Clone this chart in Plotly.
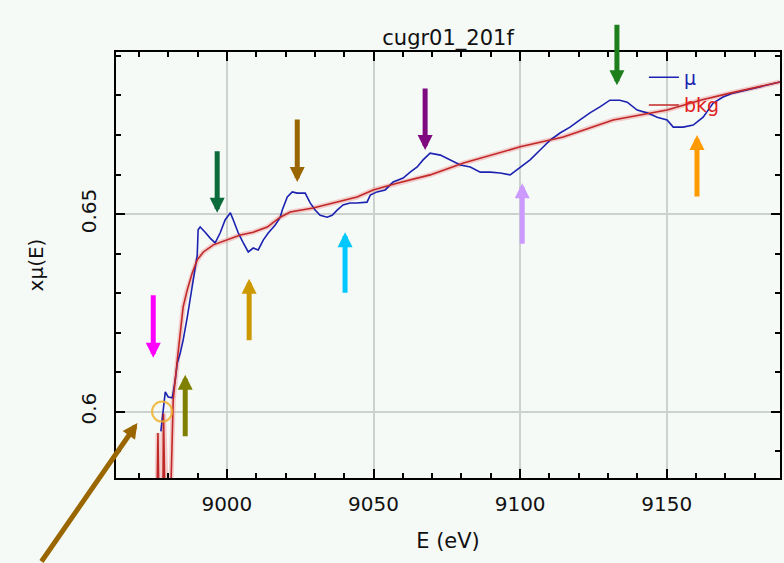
import plotly.graph_objects as go

# ---- data ----
energy_mu = [8977.5, 8978.3, 8979.0, 8980.0, 8981.4, 8982.4, 8983.1, 8984.1, 8985.1, 8986.5,
             8987.5, 8988.5, 8989.2, 8989.9, 8990.2, 8990.9, 8992.6, 8994.3, 8996.0, 8997.7,
             8999.4, 9001.2, 9002.2, 9003.9, 9005.6, 9007.3, 9009.0, 9010.7, 9012.4, 9014.1,
             9016.5, 9018.2, 9018.9, 9020.6, 9022.3, 9024.0, 9026.7, 9028.4, 9030.1, 9031.8,
             9034.2, 9035.9, 9037.6, 9039.6, 9042.0, 9044.4, 9047.8, 9048.9, 9051.2, 9054.0,
             9056.7, 9060.1, 9062.5, 9064.9, 9066.9, 9069.3, 9072.8, 9076.1, 9079.6, 9083.0,
             9086.4, 9089.8, 9093.2, 9096.6, 9100.0, 9103.4, 9106.8, 9110.2, 9113.6, 9117.0,
             9120.4, 9123.8, 9127.2, 9130.6, 9134.0, 9136.5, 9139.9, 9143.3, 9146.7, 9150.1,
             9152.2, 9155.6, 9159.0, 9162.4, 9165.8, 9169.2, 9172.6, 9177.4, 9181.8, 9188.6]
mu = [0.5950, 0.6004, 0.6050, 0.6037, 0.6035, 0.6080, 0.6123, 0.6148, 0.6181, 0.6239,
      0.6282, 0.6333, 0.6366, 0.6396, 0.6460, 0.6467, 0.6454, 0.6439, 0.6427, 0.6452,
      0.6485, 0.6503, 0.6485, 0.6452, 0.6427, 0.6404, 0.6414, 0.6409, 0.6434, 0.6452,
      0.6472, 0.6492, 0.6510, 0.6543, 0.6556, 0.6553, 0.6553, 0.6528, 0.6510, 0.6497,
      0.6492, 0.6497, 0.6510, 0.6523, 0.6528, 0.6528, 0.6530, 0.6548, 0.6556, 0.6561,
      0.6581, 0.6591, 0.6606, 0.6619, 0.6637, 0.6654, 0.6649, 0.6637, 0.6624, 0.6619,
      0.6606, 0.6606, 0.6604, 0.6599, 0.6619, 0.6637, 0.6662, 0.6687, 0.6705, 0.6720,
      0.6738, 0.6756, 0.6771, 0.6788, 0.6788, 0.6783, 0.6763, 0.6756, 0.6745, 0.6738,
      0.6720, 0.6720, 0.6725, 0.6745, 0.6781, 0.6796, 0.6806, 0.6814, 0.6821, 0.6834]

energy_bkg = [8975.8, 8976.5, 8977.2, 8978.0, 8978.4, 8979.3, 8980.2, 8981.7, 8983.1, 8984.1,
              8985.1, 8986.5, 8988.2, 8989.9, 8992.0, 8995.4, 9000.1, 9004.6, 9009.0, 9013.8,
              9018.2, 9021.6, 9029.4, 9037.6, 9044.4, 9049.9, 9058.0, 9069.3, 9080.7, 9100.0,
              9114.7, 9131.7, 9150.1, 9161.4, 9171.6, 9188.6]
bkg = [0.560, 0.5946, 0.560, 0.560, 0.5995, 0.560, 0.560, 0.6029, 0.6131, 0.6199,
       0.6265, 0.6308, 0.6351, 0.6384, 0.6404, 0.6422, 0.6434, 0.6447, 0.6454, 0.6467,
       0.6492, 0.6505, 0.6515, 0.6530, 0.6543, 0.6561, 0.6578, 0.6599, 0.6629, 0.6670,
       0.6695, 0.6738, 0.6763, 0.6788, 0.6806, 0.6834]

e0_energy = [8977.9]
e0_mu = [0.6000]

# arrows: tip energy, tip value, tail offset (px), colour
arrow_tip_e = [8996.7, 9024.0, 9067.6, 9133.0, 9160.3, 9100.7, 9040.3, 9007.6, 8974.9, 8985.8, 8969.5]
arrow_tip_y = [0.6503, 0.6581, 0.6662, 0.6826, 0.6700, 0.6578, 0.6454, 0.6336, 0.6136, 0.6093, 0.5971]
arrow_ax = [0, 0, 0, 0, 0, 0, 0, 0, 0, 0, -97]
arrow_ay = [-63, -64, -63, -62, 63, 62, 62, 63, -64, 63, 140]
arrow_colors = ["#0b6b3a", "#9a6600", "#7f0a7f", "#1c7f1c", "#ff9a00", "#cc99ff",
                "#00c8ff", "#cc9900", "#ff00ff", "#808000", "#9a6600"]

FONT = "DejaVu Sans"
BG = "#f5faf7"

fig = go.Figure()
fig.add_trace(go.Scatter(x=energy_bkg, y=bkg, mode="lines",
                         line=dict(color="rgba(240,150,150,0.45)", width=5),
                         showlegend=False, hoverinfo="skip"))
fig.add_trace(go.Scatter(x=energy_mu, y=mu, mode="lines",
                         line=dict(color="#1c22b0", width=1.6),
                         name='<span style="color:#1c22b0">μ</span>'))
fig.add_trace(go.Scatter(x=energy_bkg, y=bkg, mode="lines",
                         line=dict(color="#c02828", width=1.6),
                         name='<span style="color:#e02020">bkg</span>'))
fig.add_trace(go.Scatter(x=e0_energy, y=e0_mu, mode="markers",
                         marker=dict(symbol="circle-open", size=20, color="rgba(240,175,40,0.85)",
                                     line=dict(color="rgba(240,175,40,0.85)", width=2)),
                         showlegend=False, hoverinfo="skip"))

for xe, ye, ax, ay, c in zip(arrow_tip_e, arrow_tip_y, arrow_ax, arrow_ay, arrow_colors):
    fig.add_annotation(x=xe, y=ye, ax=ax, ay=ay, text="", showarrow=True,
                       arrowhead=2, arrowwidth=5, arrowsize=0.6, arrowcolor=c,
                       standoff=0, startstandoff=0)

axis_common = dict(showline=True, linewidth=2, linecolor="black", mirror="allticks",
                   ticks="inside", ticklen=9, tickwidth=2, tickcolor="black",
                   showgrid=True, gridcolor="#ccd3ce", gridwidth=1.5, zeroline=False,
                   tickfont=dict(family=FONT, size=20, color="#111"))

fig.update_xaxes(range=[8962.2, 9188.6], tick0=9000, dtick=50,
                 minor=dict(dtick=10, tick0=9000, ticks="inside", ticklen=5, tickwidth=1.5,
                            tickcolor="black", showgrid=False),
                 title=dict(text="E (eV)", font=dict(family=FONT, size=21, color="#111"), standoff=18),
                 ticklabelstandoff=7, **axis_common)
fig.update_yaxes(range=[0.5832, 0.691], tick0=0.6, dtick=0.05, tickangle=-90,
                 minor=dict(dtick=0.01, tick0=0.6, ticks="inside", ticklen=5, tickwidth=1.5,
                            tickcolor="black", showgrid=False),
                 title=dict(text="xμ(E)", font=dict(family=FONT, size=20, color="#111"), standoff=28),
                 ticklabelstandoff=10, **axis_common)

fig.update_layout(
    width=784, height=563,
    margin=dict(l=116, r=4, t=52, b=85, autoexpand=False),
    paper_bgcolor=BG, plot_bgcolor=BG,
    title=dict(text="cugr01_201f", x=0.5715, xanchor="center", y=1 - 38 / 563, yanchor="middle",
               font=dict(family=FONT, size=21, color="#111")),
    legend=dict(x=0.795, y=0.985, xanchor="left", yanchor="top", bgcolor="rgba(0,0,0,0)",
                font=dict(family=FONT, size=19), itemwidth=30, tracegroupgap=0),
    showlegend=True,
)

fig.write_html("out.html")
